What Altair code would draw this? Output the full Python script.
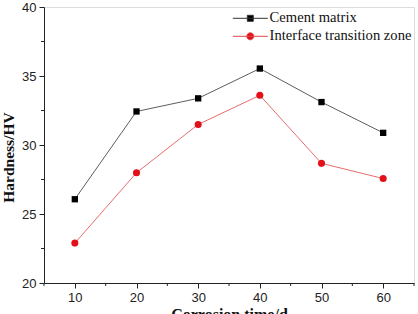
import altair as alt
import pandas as pd

times = [10, 20, 30, 40, 50, 60]
cement = [26.07, 32.43, 33.38, 35.54, 33.11, 30.88]
itz = [22.89, 27.99, 31.49, 33.60, 28.67, 27.57]
series_names = ["Cement matrix", "Interface transition zone"]
x_ticks = [10, 20, 30, 40, 50, 60]
x_minor = [5, 15, 25, 35, 45, 55, 65]
y_ticks = [20, 25, 30, 35, 40]
y_minor = [22.5, 27.5, 32.5, 37.5]

df_c = pd.DataFrame({"x": times, "y": cement, "series": series_names[0]})
df_i = pd.DataFrame({"x": times, "y": itz, "series": series_names[1]})
df_all = pd.concat([df_c, df_i])

W, H = 370, 276
xs = alt.Scale(domain=[5, 65], nice=False, zero=False)
ys = alt.Scale(domain=[20, 40], nice=False, zero=False)

x_axis = alt.Axis(values=x_ticks, title="Corrosion time/d", grid=False,
                  labelFont="Liberation Sans", labelFontSize=13, labelColor="#222",
                  tickSize=5, tickColor="#222", domainColor="#222", labelPadding=3,
                  titleFont="Liberation Serif", titleFontSize=16, titleFontWeight="bold",
                  titleColor="#111", titlePadding=2)
y_axis = alt.Axis(values=y_ticks, title="Hardness/HV", grid=False,
                  labelFont="Liberation Sans", labelFontSize=13, labelColor="#222",
                  tickSize=5, tickColor="#222", domainColor="#222", labelPadding=3,
                  titleFont="Liberation Serif", titleFontSize=15.5, titleFontWeight="bold",
                  titleColor="#111", titleX=-36, titleY=150, titleBaseline="middle",
                  titleAngle=270)

X = alt.X("x:Q", scale=xs, axis=x_axis)
Y = alt.Y("y:Q", scale=ys, axis=y_axis)

line_c = alt.Chart(df_c).mark_line(color="#333333", strokeWidth=0.8).encode(x=X, y=Y)
pt_c = alt.Chart(df_c).mark_point(shape="square", filled=True, color="black", size=40, opacity=1).encode(x=X, y=Y)
line_i = alt.Chart(df_i).mark_line(color="#e04848", strokeWidth=0.8).encode(x=X, y=Y)
pt_i = alt.Chart(df_i).mark_point(shape="circle", filled=True, color="#e3101a", size=50, opacity=1).encode(x=X, y=Y)

xs_minor = pd.DataFrame({"x": x_minor})
ys_minor = pd.DataFrame({"y": y_minor})
xminor = alt.Chart(xs_minor).mark_rule(color="#222", strokeWidth=1).encode(
    x=alt.X("x:Q", scale=xs), y=alt.value(H), y2=alt.value(H + 3))
yminor = alt.Chart(ys_minor).mark_rule(color="#222", strokeWidth=1).encode(
    y=alt.Y("y:Q", scale=ys), x=alt.value(-3), x2=alt.value(0))

sq_path = "M-3.5,0H3.5M-0.6,-0.6H0.6V0.6H-0.6Z"
ci_path = "M-3.5,0H3.5M0.7,0A0.7,0.7,0,1,1,-0.7,0A0.7,0.7,0,1,1,0.7,0Z"
leg = alt.Legend(orient="none", legendX=199, legendY=4, title=None, symbolSize=100,
                 labelOffset=12, labelFont="Liberation Serif", labelFontSize=14.6,
                 labelColor="#111", rowPadding=3, padding=0, symbolStrokeWidth=1,
                 symbolOpacity=1, labelLimit=300)
legend_layer = alt.Chart(df_all).mark_point(opacity=0, filled=True).encode(
    x=alt.X("x:Q", scale=xs), y=alt.Y("y:Q", scale=ys),
    fill=alt.Fill("series:N", title=None, legend=leg,
                  scale=alt.Scale(domain=series_names, range=["black", "#e3101a"])),
    stroke=alt.Stroke("series:N", title=None, legend=leg,
                      scale=alt.Scale(domain=series_names, range=["#333333", "#e04848"])),
    shape=alt.Shape("series:N", title=None, legend=leg,
                    scale=alt.Scale(domain=series_names, range=[sq_path, ci_path])),
)

chart = alt.layer(line_c, line_i, pt_c, pt_i, xminor, yminor, legend_layer).properties(
    width=W, height=H,
    padding={"left": 44, "top": 7, "right": 4, "bottom": 31},
    autosize=alt.AutoSizeParams(type="none"),
).configure_view(stroke="#222", strokeWidth=1).configure(background="white")

chart.save("out.html", embed_options={"renderer": "svg", "actions": False})
